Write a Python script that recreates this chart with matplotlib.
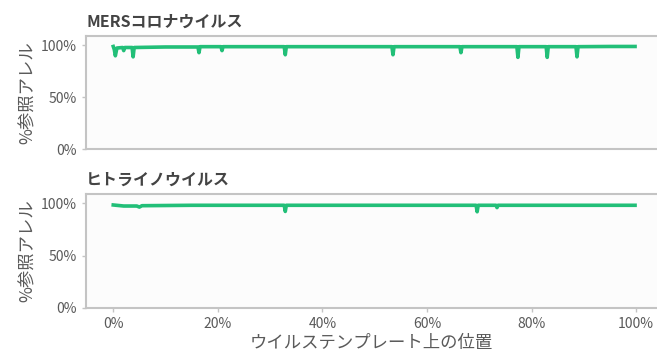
import numpy as np
import matplotlib
matplotlib.use("Agg")
from matplotlib import pyplot as plt
from matplotlib.ticker import PercentFormatter

plt.rcParams['font.family'] = ['Noto Sans CJK JP', 'DejaVu Sans']

# テンプレート上の位置 (0-1) と参照アレルの割合
mers_pos = [0.000, 0.002, 0.004, 0.007, 0.018, 0.020, 0.022, 0.036, 0.038, 0.040,
            0.100, 0.162, 0.164, 0.166, 0.206, 0.208, 0.210, 0.327, 0.329, 0.331,
            0.450, 0.533, 0.535, 0.537, 0.663, 0.665, 0.667, 0.772, 0.774, 0.776,
            0.828, 0.830, 0.832, 0.885, 0.887, 0.889, 0.950, 0.998]
mers_ref = [0.990, 0.960, 0.900, 0.975, 0.980, 0.950, 0.980, 0.980, 0.890, 0.980,
            0.985, 0.985, 0.930, 0.988, 0.988, 0.950, 0.988, 0.988, 0.910, 0.988,
            0.988, 0.988, 0.910, 0.988, 0.988, 0.930, 0.988, 0.988, 0.885, 0.988,
            0.988, 0.885, 0.988, 0.988, 0.890, 0.988, 0.990, 0.990]

rhino_pos = [0.000, 0.020, 0.045, 0.050, 0.055, 0.150, 0.327, 0.329, 0.331,
             0.500, 0.694, 0.696, 0.698, 0.732, 0.734, 0.736, 0.900, 0.998]
rhino_ref = [0.985, 0.975, 0.975, 0.965, 0.978, 0.982, 0.982, 0.923, 0.982,
             0.982, 0.982, 0.920, 0.982, 0.982, 0.960, 0.982, 0.982, 0.982]

panels = [('MERSコロナウイルス', mers_pos, mers_ref),
          ('ヒトライノウイルス', rhino_pos, rhino_ref)]

line_color = '#22bf78'
spine_color = '#c4c4c4'
text_color = '#5a5a5a'

fig = plt.figure(figsize=(6.57, 3.54), dpi=100)
rects = [[0.131, 0.579, 0.869, 0.319], [0.131, 0.130, 0.869, 0.322]]

for i, (title, pos, ref) in enumerate(panels):
    ax = fig.add_axes(rects[i])
    ax.set_facecolor('#fcfcfc')
    ax.plot(pos, ref, color=line_color, lw=2.6)
    ax.set_xlim(-0.052, 1.04)
    ax.set_ylim(0, 1.09)
    ax.set_yticks([0, 0.5, 1.0])
    ax.yaxis.set_major_formatter(PercentFormatter(1.0, decimals=0))
    ax.set_xticks([0, 0.2, 0.4, 0.6, 0.8, 1.0])
    ax.xaxis.set_major_formatter(PercentFormatter(1.0, decimals=0))
    for side in ['top', 'bottom', 'left']:
        ax.spines[side].set_color(spine_color)
        ax.spines[side].set_linewidth(1.5)
    ax.spines['right'].set_visible(False)
    ax.tick_params(axis='both', colors=spine_color, labelcolor=text_color,
                   labelsize=10, length=3, width=1)
    if i == 0:
        ax.tick_params(axis='x', bottom=False, labelbottom=False)
    else:
        ax.set_xlabel('ウイルステンプレート上の位置', fontsize=12.5,
                      color=text_color, labelpad=2)
    ax.set_ylabel('%参照アレル', fontsize=12.5, color=text_color, labelpad=3)
    ax.set_title(title, loc='left', fontsize=11.5, fontweight='bold',
                 color='#444444', pad=7)

fig.savefig('out.png', dpi=100, facecolor='white')
